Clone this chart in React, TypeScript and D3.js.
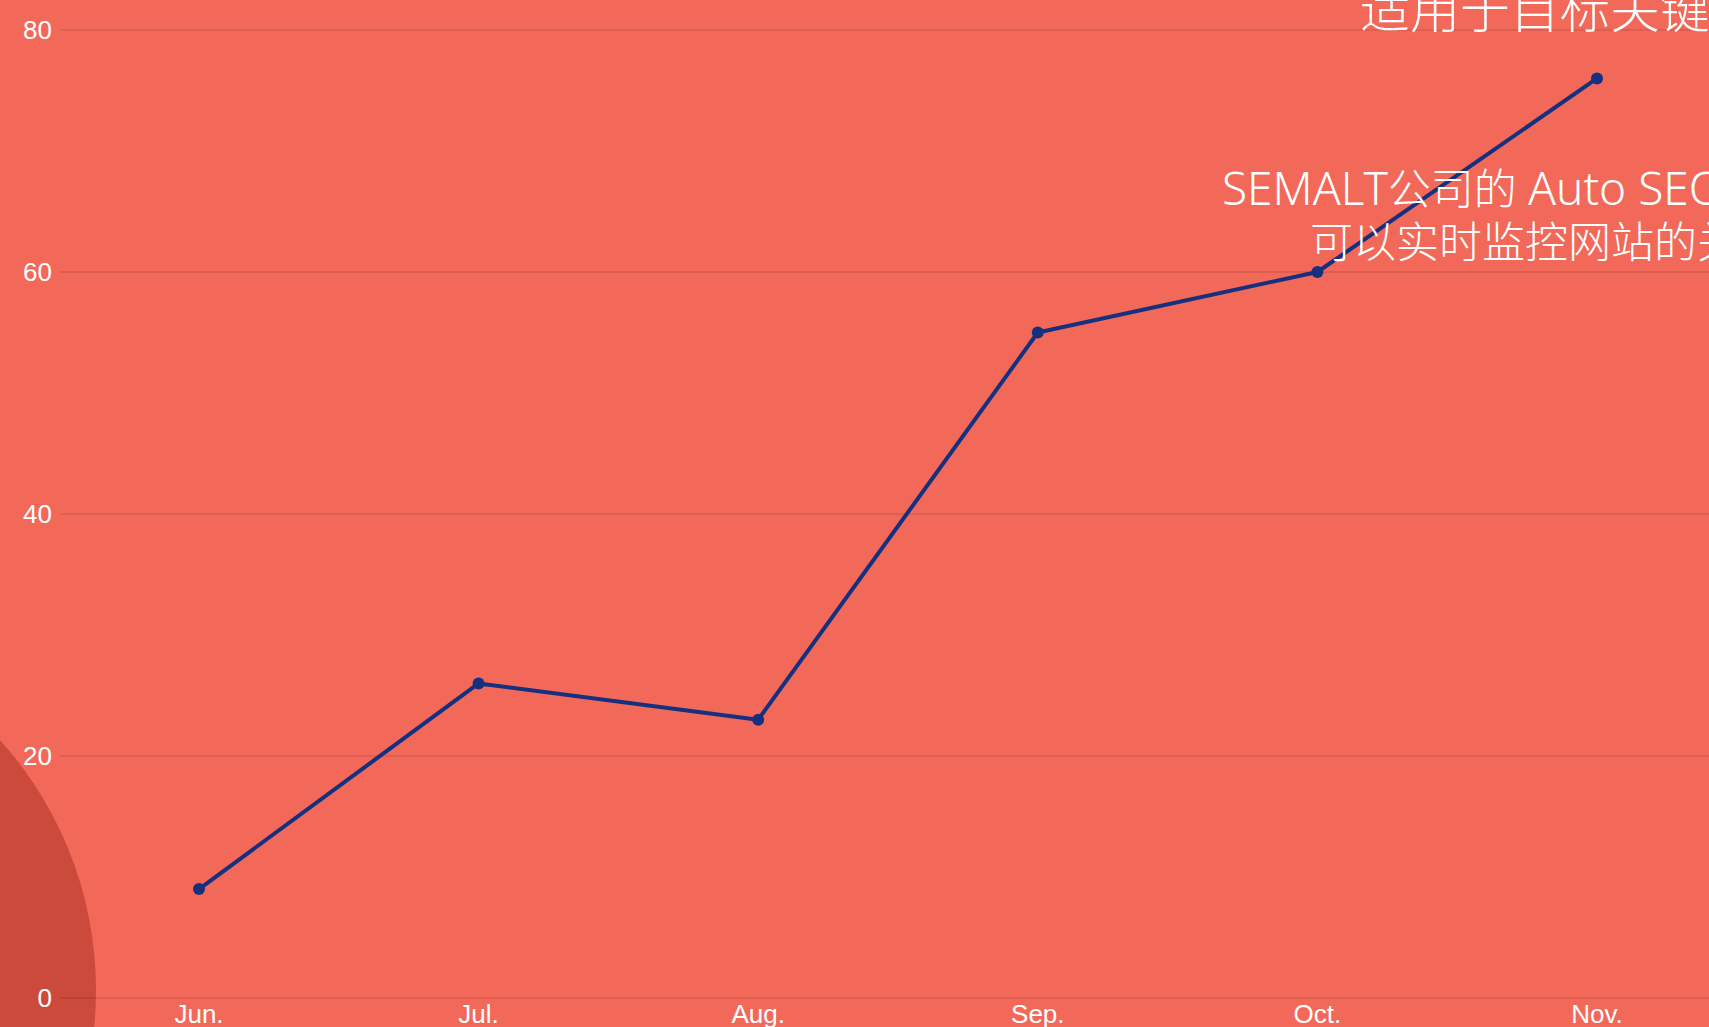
import React from "react";
import * as d3 from "d3";

const months = ["Jun.", "Jul.", "Aug.", "Sep.", "Oct.", "Nov."];
const values = [9, 26, 23, 55, 60, 76];
const yTicks = [0, 20, 40, 60, 80];
const titleLines = ["适用于目标关键词"];
const noteLine1 = ["SEMALT", "公司的 ", "Auto SEO"];
const noteLine2 = "可以实时监控网站的关键词";

const W = 1709;
const H = 1027;

export default function App() {
  const x = d3.scalePoint<string>().domain(months).range([199, 1597]);
  const y = d3.scaleLinear().domain([0, 80]).range([998, 30]);
  const line = d3
    .line<number>()
    .x((_, i) => x(months[i]) as number)
    .y((d) => y(d));

  const sans = "'Liberation Sans', Arial, sans-serif";
  const cjk = "'Noto Sans', 'Noto Sans CJK SC', sans-serif";

  return (
    <svg
      width={W}
      height={H}
      style={{ position: "fixed", left: 0, top: 0, display: "block" }}
    >
      <rect x={0} y={0} width={W} height={H} fill="#f2695a" />
      <circle cx={-277} cy={990} r={373} fill="#cc4a3b" />
      {yTicks.map((t) => (
        <g key={t}>
          <line
            x1={60}
            x2={W}
            y1={y(t)}
            y2={y(t)}
            stroke="rgba(0,0,0,0.12)"
            strokeWidth={1.5}
          />
          <text
            x={52}
            y={y(t)}
            dy="0.35em"
            textAnchor="end"
            fill="#ffffff"
            fontFamily={sans}
            fontSize={26}
          >
            {t}
          </text>
        </g>
      ))}
      {months.map((m) => (
        <text
          key={m}
          x={x(m) as number}
          y={1023}
          textAnchor="middle"
          fill="#ffffff"
          fontFamily={sans}
          fontSize={26}
        >
          {m}
        </text>
      ))}
      <path
        d={line(values) || ""}
        fill="none"
        stroke="#15307f"
        strokeWidth={4}
        strokeLinejoin="round"
      />
      {values.map((v, i) => (
        <circle key={i} cx={x(months[i]) as number} cy={y(v)} r={6} fill="#15307f" />
      ))}
      {titleLines.map((t, i) => (
        <text
          key={t}
          x={1360}
          y={28 + i * 50}
          fill="#ffffff"
          fontFamily={cjk}
          fontWeight={300}
          fontSize={50}
        >
          {t}
        </text>
      ))}
      <text
        x={1222}
        y={205}
        fill="#ffffff"
        fontFamily={cjk}
        fontWeight={300}
        fontSize={43}
        style={{ whiteSpace: "pre" }}
      >
        <tspan fontSize={46}>{noteLine1[0]}</tspan>
        <tspan>{noteLine1[1]}</tspan>
        <tspan fontSize={46}>{noteLine1[2]}</tspan>
      </text>
      <text
        x={1310}
        y={258}
        fill="#ffffff"
        fontFamily={cjk}
        fontWeight={300}
        fontSize={43}
      >
        {noteLine2}
      </text>
    </svg>
  );
}
